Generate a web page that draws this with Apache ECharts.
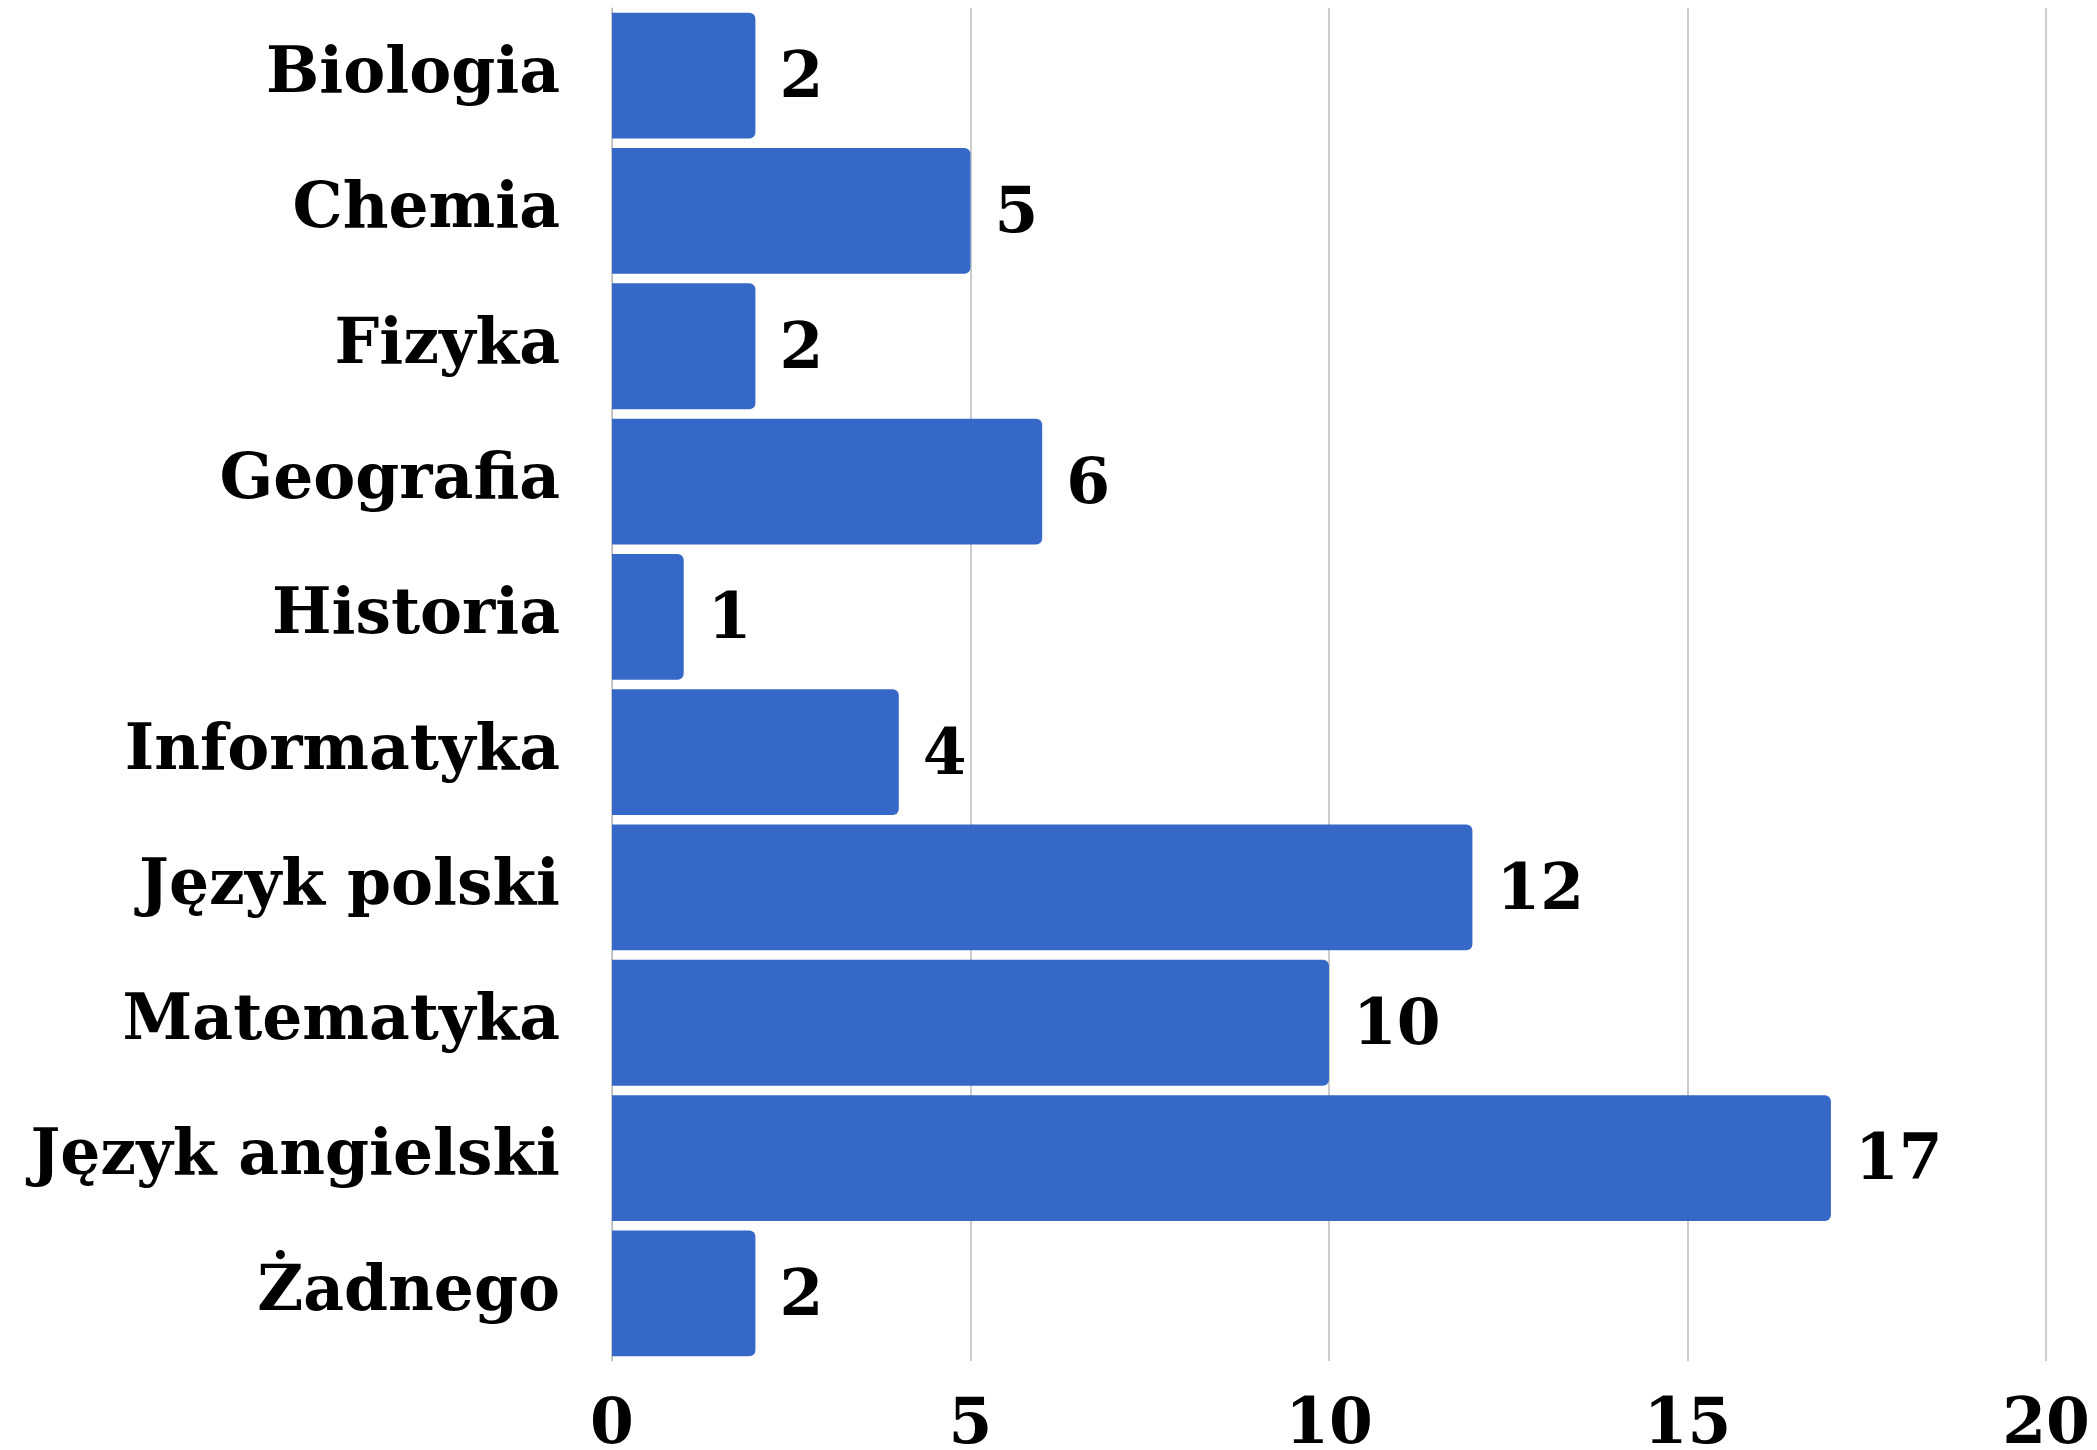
<!DOCTYPE html>
<html>
<head>
<meta charset="utf-8">
<script src="https://cdn.jsdelivr.net/npm/echarts@6/dist/echarts.min.js"></script>
<style>html,body{margin:0;padding:0;background:#fff}#c{width:2097px;height:1450px}</style>
</head>
<body>
<div id="c"></div>
<script>
const categories = ["Biologia", "Chemia", "Fizyka", "Geografia", "Historia", "Informatyka", "Język polski", "Matematyka", "Język angielski", "Żadnego"];
const values = [2, 5, 2, 6, 1, 4, 12, 10, 17, 2];
const xTicks = [0, 5, 10, 15, 20];

const FONT = '"DejaVu Serif", "Liberation Serif", serif';
const chart = echarts.init(document.getElementById('c'), null, {renderer: 'canvas'});
chart.setOption({
  animation: false,
  backgroundColor: '#ffffff',
  grid: {left: 612, right: 51, top: 8, bottom: 89, containLabel: false, outerBoundsMode: 'none'},
  xAxis: {
    type: 'value', min: xTicks[0], max: xTicks[xTicks.length - 1], interval: 5,
    axisLine: {show: false}, axisTick: {show: false},
    splitLine: {show: true, lineStyle: {color: '#cccccc', width: 2}},
    axisLabel: {color: '#000', fontFamily: FONT, fontWeight: 'bold', fontSize: 63, margin: 34}
  },
  yAxis: {
    type: 'category', data: categories, inverse: true,
    axisLine: {show: true, lineStyle: {color: '#bbbbbb', width: 1}},
    axisTick: {show: false},
    axisLabel: {color: '#000', fontFamily: FONT, fontWeight: 'bold', fontSize: 63, margin: 52, padding: [10, 0, 0, 0]}
  },
  series: [{
    type: 'bar', data: values, barCategoryGap: '7%',
    itemStyle: {color: '#3668c8', borderRadius: [0, 6, 6, 0]},
    label: {show: true, position: 'right', distance: 24, offset: [0, 5], color: '#000', fontFamily: FONT, fontWeight: 'bold', fontSize: 63}
  }]
});
</script>
</body>
</html>
